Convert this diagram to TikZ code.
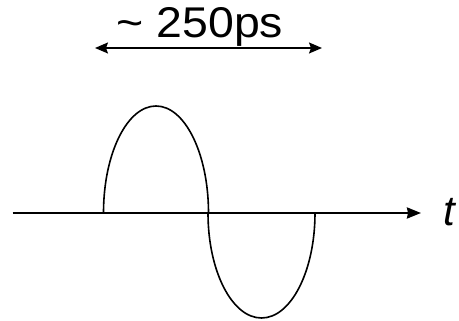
\documentclass[tikz,border=0pt]{standalone}
\usepackage{fontspec}
\setmainfont{Liberation Sans}
\usetikzlibrary{arrows.meta}
\begin{document}
\begin{tikzpicture}[x=1pt,y=1pt,
  axisline/.style={line width=2.2pt,-{Stealth[length=14pt,width=11pt,inset=1pt]}},
  lobe/.style={line width=1.6pt},
  spanarrow/.style={line width=1.5pt,{Stealth[length=13pt,width=11pt,inset=2pt]}-{Stealth[length=13pt,width=11pt,inset=2pt]}}]
\useasboundingbox (0,0) rectangle (459,321);
% axis
\coordinate (a0) at (12.5,108);
\coordinate (a1) at (421,108);
\draw[axisline] (a0) -- (a1);
\node[anchor=west,inner sep=0pt,font=\fontsize{42}{42}\selectfont\itshape] (t) at (443.5,108.5) {t};
% lobes
\draw[lobe] (103.5,108) arc[start angle=180,end angle=0,x radius=52.5,y radius=107];
\draw[lobe] (208,108) arc[start angle=180,end angle=360,x radius=53.5,y radius=105];
% span arrow
\coordinate (s0) at (95,273);
\coordinate (s1) at (322,273);
\draw[spanarrow] (s0) -- (s1);
\node[anchor=base,inner sep=0pt,xscale=1.08,font=\fontsize{43}{43}\selectfont] (lbl) at (200,283) {\textasciitilde\ 250ps};
\end{tikzpicture}
\end{document}
